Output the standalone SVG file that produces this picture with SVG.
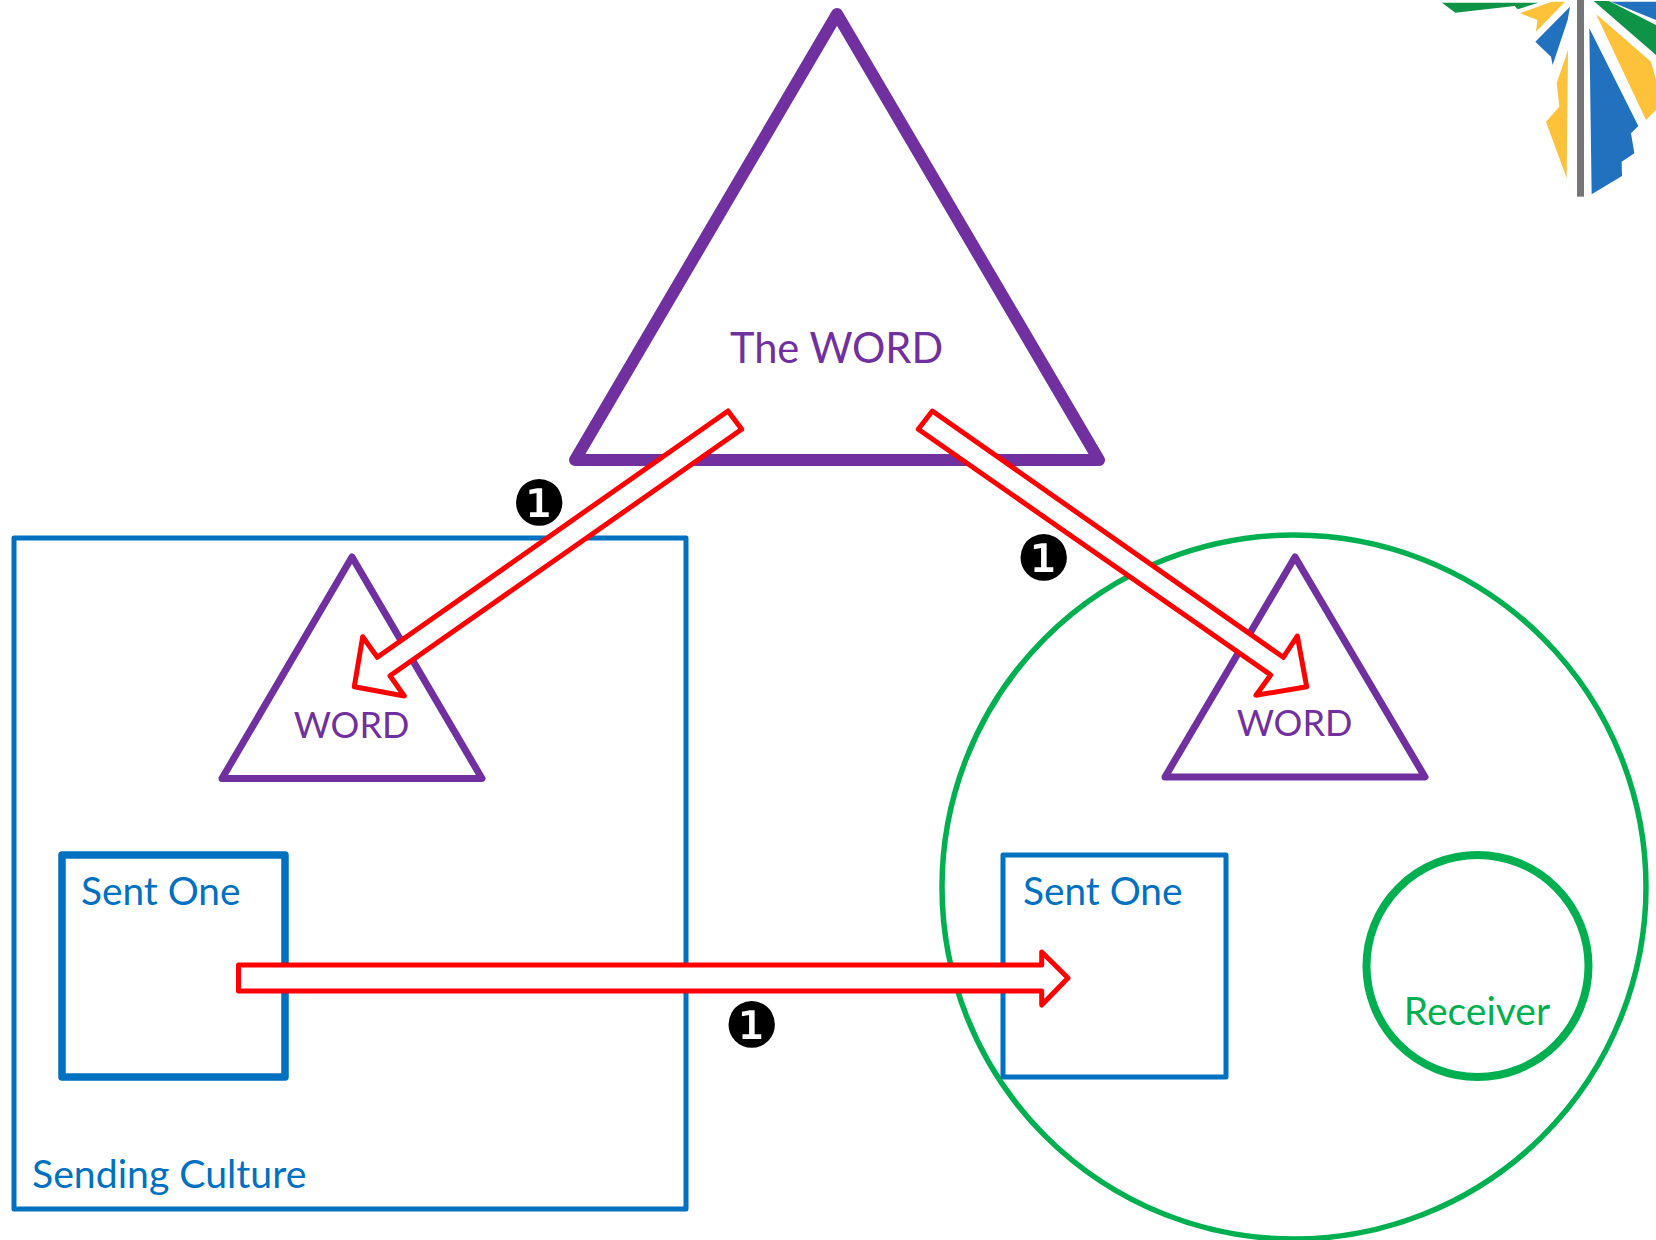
<svg xmlns="http://www.w3.org/2000/svg" width="1656" height="1240" viewBox="0 0 1656 1240">
<style>
text{font-family:Lato,"Open Sans","Liberation Sans",sans-serif}
.p{fill:#7030A0}.b{fill:#0070C0}.g{fill:#00B050}
.o{fill:none;stroke-linejoin:round}
.arrow{fill:#fff;stroke:#FF0000;stroke-width:5;stroke-linejoin:round}
.badge{font-family:"DejaVu Sans",sans-serif;font-size:62px;fill:#000;text-anchor:middle}
</style>
<rect width="1656" height="1240" fill="#fff"/>
<g id="logo" transform="translate(1416,0) scale(.33333)">
<polygon fill="#0E9347" points="78,8 118,38 296,18 305,28 367,8"/>
<polygon fill="#FDC13A" points="312,40 407,5 447,5 360,95 364,60"/>
<polygon fill="#2171BE" points="462,20 455,60 410,195 405,170 358,125"/>
<polygon fill="#FDC13A" points="456,150 452,535 390,365 430,320 422,250"/>
<rect x="483" y="0" width="21" height="590" fill="#77757A"/>
<polygon fill="#2171BE" points="520,85 667,378 645,400 655,460 617,485 618,528 527,583"/>
<polygon fill="#FDC13A" points="540,42 705,185 720,240 720,330 690,360"/>
<polygon fill="#0E9347" points="533,3 579,3 720,75 720,165"/>
<polygon fill="#2171BE" points="585,5 720,5 720,60"/>
</g>
<g id="the-word"><polygon class="o" stroke="#7030A0" stroke-width="12" points="837,14 1099,460 575,460"/>
<text class="p" x="836.500" y="363" font-size="41.600" text-anchor="middle">The WORD</text></g>
<g id="sending-culture"><rect class="o" stroke="#0070C0" stroke-width="5" x="14" y="538" width="672" height="671"/>
<text class="b" x="32" y="1188" font-size="39.200">Sending Culture</text></g>
<g id="word-left"><polygon class="o" stroke="#7030A0" stroke-width="7" points="352,557 482,778.500 222,778.500"/>
<text class="p" x="351.500" y="738" font-size="36" text-anchor="middle">WORD</text></g>
<g id="sent-one-left"><rect class="o" stroke="#0070C0" stroke-width="7.500" x="62" y="855" width="223" height="222"/>
<text class="b" x="81" y="905" font-size="38.800">Sent One</text></g>
<g id="receiver-culture"><circle class="o" stroke="#00B050" stroke-width="5.500" cx="1294" cy="887" r="352"/></g>
<g id="word-right"><polygon class="o" stroke="#7030A0" stroke-width="7" points="1295,557 1425,777 1165,777"/>
<text class="p" x="1294.500" y="736" font-size="36" text-anchor="middle">WORD</text></g>
<g id="sent-one-right"><rect class="o" stroke="#0070C0" stroke-width="5" x="1003" y="855" width="223" height="222"/>
<text class="b" x="1023" y="905" font-size="38.800">Sent One</text></g>
<g id="receiver"><circle class="o" stroke="#00B050" stroke-width="8" cx="1477.500" cy="966" r="111"/>
<text class="g" x="1477" y="1025" font-size="39" text-anchor="middle">Receiver</text></g>
<g id="connectors">
<polygon class="arrow" points="728,411 741.700,429.300 390,675.700 404.300,696 354.300,686.700 362.700,636.700 377.300,657.300"/>
<polygon class="arrow" points="932.300,411 918.300,429.300 1270.700,675 1256,695.300 1306.700,686.700 1297.300,636 1283.300,657.300"/>
<polygon class="arrow" points="238.500,965 1041.700,965 1041.700,952 1068,978 1041.700,1005 1041.700,991 238.500,991"/>
</g>
<g id="badge-1"><text class="badge" x="539.300" y="525">❶</text></g>
<g id="badge-2"><text class="badge" x="1043.700" y="580">❶</text></g>
<g id="badge-3"><text class="badge" x="751.700" y="1047">❶</text></g>
</svg>
